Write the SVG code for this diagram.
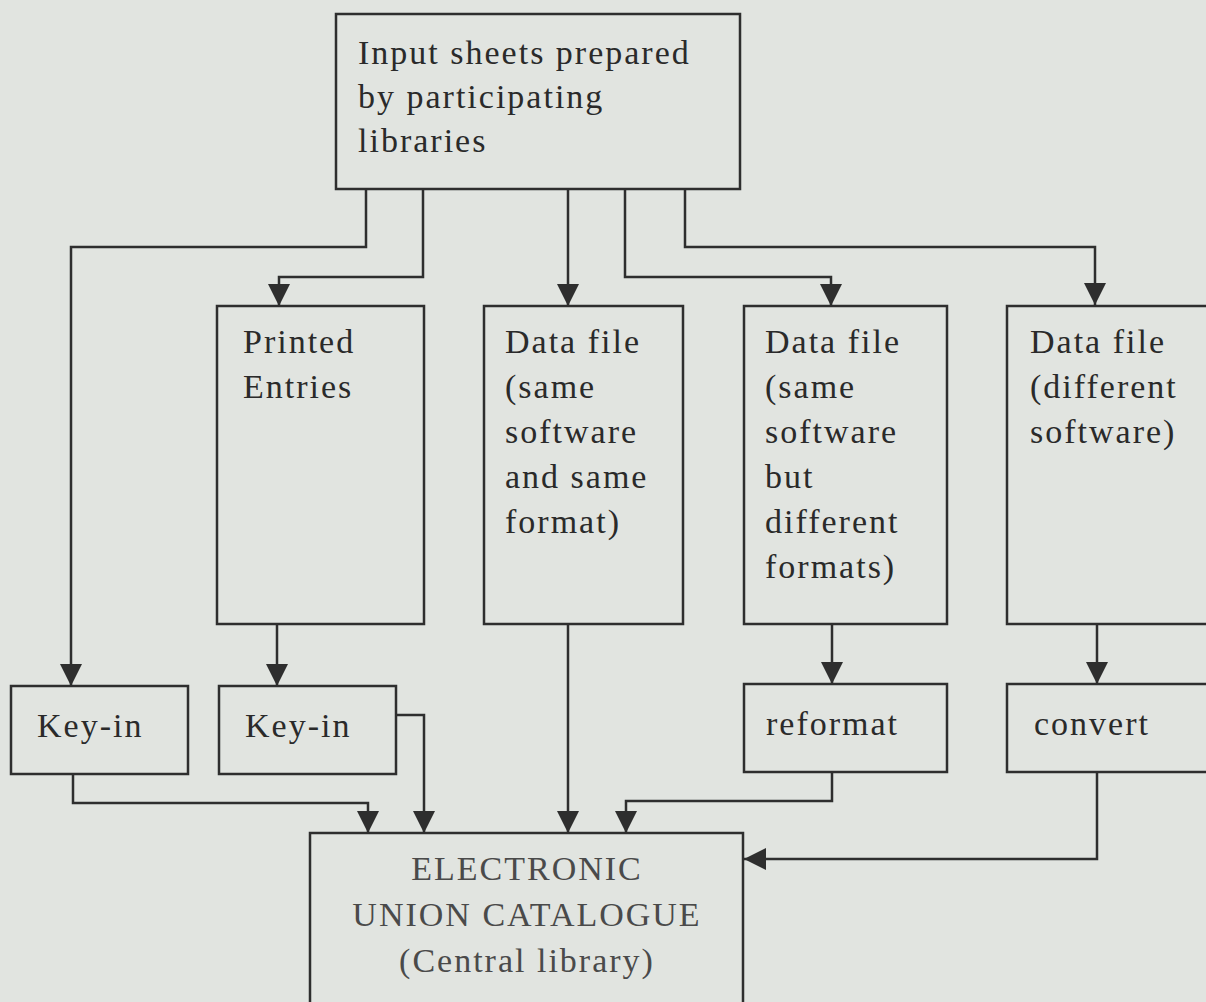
<svg xmlns="http://www.w3.org/2000/svg" width="1206" height="1002" viewBox="0 0 1206 1002">
<style>
.box{fill:none;stroke:#2e2e2e;stroke-width:2.5}
.lbl{font-family:"Liberation Serif","Times New Roman",serif;font-size:34px;letter-spacing:2px;fill:#2a2a2a}
.lbl2{font-family:"Liberation Serif","Times New Roman",serif;font-size:34px;letter-spacing:2px;fill:#4a4a4a;text-anchor:middle}
.con{fill:none;stroke:#2e2e2e;stroke-width:2.5;marker-end:url(#arr)}
</style>
<defs>
<marker id="arr" markerUnits="userSpaceOnUse" markerWidth="26" markerHeight="26" viewBox="-1 -13 26 26" refX="22" refY="0" orient="auto">
<path d="M0,-11 L22,0 L0,11 z" fill="#2e2e2e"/>
</marker>
</defs>
<rect width="1206" height="1002" fill="#e1e4e0"/>
<g id="connectors">
<polyline class="con" points="366,189 366,247 71,247 71,686"/>
<polyline class="con" points="423,189 423,277 279,277 279,306"/>
<polyline class="con" points="568,189 568,306"/>
<polyline class="con" points="625,189 625,277 831,277 831,306"/>
<polyline class="con" points="685,189 685,247 1095,247 1095,305"/>
<polyline class="con" points="277,624 277,686"/>
<polyline class="con" points="568,624 568,833"/>
<polyline class="con" points="832,624 832,684"/>
<polyline class="con" points="1097,624 1097,684"/>
<polyline class="con" points="73,774 73,803 368,803 368,833"/>
<polyline class="con" points="396,715 424,715 424,833"/>
<polyline class="con" points="832,772 832,801 626,801 626,833"/>
<polyline class="con" points="1097,772 1097,859 744,859"/>
</g>
<g id="input">
<rect class="box" x="336" y="14" width="404" height="175"/>
<text class="lbl" x="358" y="64">Input sheets prepared</text>
<text class="lbl" x="358" y="108">by participating</text>
<text class="lbl" x="358" y="152">libraries</text>
</g>
<g id="printed">
<rect class="box" x="217" y="306" width="207" height="318"/>
<text class="lbl" x="243" y="353">Printed</text>
<text class="lbl" x="243" y="398">Entries</text>
</g>
<g id="data1">
<rect class="box" x="484" y="306" width="199" height="318"/>
<text class="lbl" x="505" y="353">Data file</text>
<text class="lbl" x="505" y="398">(same</text>
<text class="lbl" x="505" y="443">software</text>
<text class="lbl" x="505" y="488">and same</text>
<text class="lbl" x="505" y="533">format)</text>
</g>
<g id="data2">
<rect class="box" x="744" y="306" width="203" height="318"/>
<text class="lbl" x="765" y="353">Data file</text>
<text class="lbl" x="765" y="398">(same</text>
<text class="lbl" x="765" y="443">software</text>
<text class="lbl" x="765" y="488">but</text>
<text class="lbl" x="765" y="533">different</text>
<text class="lbl" x="765" y="578">formats)</text>
</g>
<g id="data3">
<rect class="box" x="1007" y="306" width="210" height="318"/>
<text class="lbl" x="1030" y="353">Data file</text>
<text class="lbl" x="1030" y="398">(different</text>
<text class="lbl" x="1030" y="443">software)</text>
</g>
<g id="keyin1">
<rect class="box" x="11" y="686" width="177" height="88"/>
<text class="lbl" x="37" y="737">Key-in</text>
</g>
<g id="keyin2">
<rect class="box" x="219" y="686" width="177" height="88"/>
<text class="lbl" x="245" y="737">Key-in</text>
</g>
<g id="reformat">
<rect class="box" x="744" y="684" width="203" height="88"/>
<text class="lbl" x="766" y="735">reformat</text>
</g>
<g id="convert">
<rect class="box" x="1007" y="684" width="210" height="88"/>
<text class="lbl" x="1034" y="735">convert</text>
</g>
<g id="catalogue">
<rect class="box" x="310" y="833" width="433" height="180"/>
<text class="lbl2" x="527" y="880">ELECTRONIC</text>
<text class="lbl2" x="527" y="926">UNION CATALOGUE</text>
<text class="lbl2" x="527" y="972">(Central library)</text>
</g>
</svg>
